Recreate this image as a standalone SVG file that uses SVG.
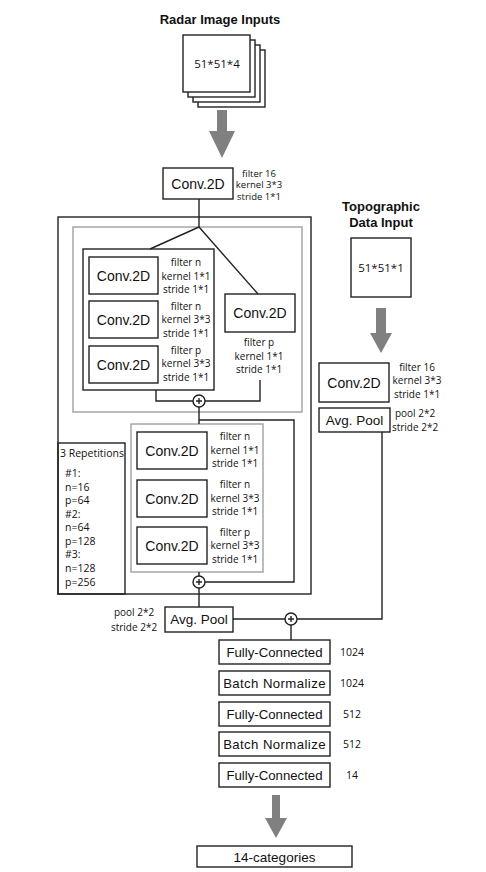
<svg xmlns="http://www.w3.org/2000/svg" width="486" height="872" viewBox="0 0 486 872">
<style>
.bx{fill:#fff;stroke:#222;stroke-width:1.4}
.gb{fill:none;stroke:#a6a6a6;stroke-width:1.5}
.ln{fill:none;stroke:#222;stroke-width:1.4}
.ar{fill:#808080;stroke:none}
.t{font-family:"Liberation Sans",Arial,sans-serif;font-size:14px;fill:#111;text-anchor:middle;dominant-baseline:central}
.tt{font-family:"Liberation Sans",Arial,sans-serif;font-size:13px;font-weight:bold;fill:#111;text-anchor:middle}
.s{font-family:"Open Sans","Liberation Sans",sans-serif;font-size:10px;fill:#111;text-anchor:middle;dominant-baseline:central}
.sl{font-family:"Open Sans","Liberation Sans",sans-serif;font-size:10.5px;fill:#111;dominant-baseline:central}
</style>
<rect width="486" height="872" fill="#fff"/>

<g id="radar-input">
<text class="tt" x="220" y="24">Radar Image Inputs</text>
<rect class="bx" x="198" y="50" width="67" height="57"/>
<rect class="bx" x="193" y="45" width="67" height="57"/>
<rect class="bx" x="188" y="40" width="67" height="57"/>
<rect class="bx" x="183" y="35" width="67" height="57"/>
<text class="s" style="font-size:11.5px" x="217" y="63">51*51*4</text>
</g>

<g id="conv-top">
<rect class="bx" x="163" y="168" width="70" height="31"/>
<text class="t" x="198" y="183.5">Conv.2D</text>
<text class="s" style="font-size:9.5px" x="259" y="173">filter 16</text>
<text class="s" style="font-size:9.5px" x="259" y="184.5">kernel 3*3</text>
<text class="s" style="font-size:9.5px" x="259" y="196">stride 1*1</text>
</g>

<g id="outer-block">
<rect class="bx" style="fill:none" x="58" y="217" width="253" height="377"/>
</g>

<g id="block1">
<rect class="gb" x="73" y="227" width="229" height="185"/>
<rect class="bx" x="83" y="249" width="131" height="141"/>
<rect class="bx" x="89" y="257" width="69" height="37"/>
<text class="t" x="123.5" y="275.5">Conv.2D</text>
<rect class="bx" x="89" y="301" width="69" height="37"/>
<text class="t" x="123.5" y="319.5">Conv.2D</text>
<rect class="bx" x="89" y="346" width="69" height="37"/>
<text class="t" x="123.5" y="364.5">Conv.2D</text>
<text class="s" x="186" y="262">filter n</text>
<text class="s" x="186" y="275.5">kernel 1*1</text>
<text class="s" x="186" y="289">stride 1*1</text>
<text class="s" x="186" y="305.5">filter n</text>
<text class="s" x="186" y="319">kernel 3*3</text>
<text class="s" x="186" y="332.5">stride 1*1</text>
<text class="s" x="186" y="349.5">filter p</text>
<text class="s" x="186" y="363">kernel 3*3</text>
<text class="s" x="186" y="376.5">stride 1*1</text>
<rect class="bx" x="225" y="294" width="70" height="38"/>
<text class="t" x="260" y="313">Conv.2D</text>
<text class="s" x="259" y="342">filter p</text>
<text class="s" x="259" y="355.5">kernel 1*1</text>
<text class="s" x="259" y="369">stride 1*1</text>
</g>

<g id="block2">
<rect class="gb" x="131" y="424" width="132" height="148"/>
<rect class="bx" x="137" y="432" width="70" height="37"/>
<text class="t" x="172" y="450.5">Conv.2D</text>
<rect class="bx" x="137" y="480" width="70" height="37"/>
<text class="t" x="172" y="498.5">Conv.2D</text>
<rect class="bx" x="137" y="527" width="70" height="37"/>
<text class="t" x="172" y="545.5">Conv.2D</text>
<text class="s" x="235" y="436">filter n</text>
<text class="s" x="235" y="449.5">kernel 1*1</text>
<text class="s" x="235" y="463">stride 1*1</text>
<text class="s" x="235" y="484">filter n</text>
<text class="s" x="235" y="497.5">kernel 3*3</text>
<text class="s" x="235" y="511">stride 1*1</text>
<text class="s" x="235" y="531.5">filter p</text>
<text class="s" x="235" y="545">kernel 3*3</text>
<text class="s" x="235" y="558.5">stride 1*1</text>
</g>

<g id="repetitions">
<rect class="bx" style="fill:none" x="58" y="443" width="67" height="151"/>
<text class="sl" x="60" y="453">3 Repetitions</text>
<text class="sl" x="65" y="473">#1:</text>
<text class="sl" x="65" y="486.5">n=16</text>
<text class="sl" x="65" y="500">p=64</text>
<text class="sl" x="65" y="514">#2:</text>
<text class="sl" x="65" y="527">n=64</text>
<text class="sl" x="65" y="540.5">p=128</text>
<text class="sl" x="65" y="554">#3:</text>
<text class="sl" x="65" y="568">n=128</text>
<text class="sl" x="65" y="582">p=256</text>
</g>

<g id="avgpool-left">
<rect class="bx" x="165" y="607" width="68" height="25"/>
<text class="t" style="font-size:13.5px" x="199" y="619.5">Avg. Pool</text>
<text class="s" x="134" y="612">pool 2*2</text>
<text class="s" x="134" y="627">stride 2*2</text>
</g>

<g id="topo-input">
<text class="tt" x="381" y="211">Topographic</text>
<text class="tt" x="381" y="227">Data Input</text>
<rect class="bx" x="351" y="238" width="60" height="59"/>
<text class="s" style="font-size:11.5px" x="381" y="267">51*51*1</text>
</g>

<g id="conv-topo">
<rect class="bx" x="319" y="363" width="70" height="39"/>
<text class="t" x="354" y="382.5">Conv.2D</text>
<text class="s" x="417" y="366.5">filter 16</text>
<text class="s" x="417" y="380">kernel 3*3</text>
<text class="s" x="417" y="394">stride 1*1</text>
</g>

<g id="avgpool-topo">
<rect class="bx" x="319" y="408" width="71" height="24"/>
<text class="t" style="font-size:13.5px" x="354.5" y="420">Avg. Pool</text>
<text class="s" x="415" y="413">pool 2*2</text>
<text class="s" x="415" y="427">stride 2*2</text>
</g>

<g id="dense">
<rect class="bx" x="219" y="640" width="111" height="24"/>
<text class="t" style="font-size:13.2px" x="274.5" y="652">Fully-Connected</text>
<rect class="bx" x="219" y="671" width="111" height="24"/>
<text class="t" style="font-size:13.2px;letter-spacing:0.4px" x="274.5" y="683">Batch Normalize</text>
<rect class="bx" x="219" y="702" width="111" height="24"/>
<text class="t" style="font-size:13.2px" x="274.5" y="714">Fully-Connected</text>
<rect class="bx" x="219" y="732" width="111" height="24"/>
<text class="t" style="font-size:13.2px;letter-spacing:0.4px" x="274.5" y="744">Batch Normalize</text>
<rect class="bx" x="219" y="763" width="111" height="24"/>
<text class="t" style="font-size:13.2px" x="274.5" y="775">Fully-Connected</text>
<text class="sl" style="text-anchor:middle" x="352" y="652">1024</text>
<text class="sl" style="text-anchor:middle" x="352" y="683">1024</text>
<text class="sl" style="text-anchor:middle" x="352" y="714">512</text>
<text class="sl" style="text-anchor:middle" x="352" y="744">512</text>
<text class="sl" style="text-anchor:middle" x="352" y="775">14</text>
</g>

<g id="output">
<rect class="bx" x="197" y="846" width="155" height="21"/>
<text class="t" style="font-size:13.5px" x="274.5" y="857">14-categories</text>
</g>

<g id="connectors">
<path class="ar" d="M217,110 H227 V131 H235 L222,158 L209,131 H217 Z"/>
<path class="ar" d="M376,308 H386 V333 H392 L381,353 L370,333 H376 Z"/>
<path class="ar" d="M272,795 H280 V818 H287 L276,838 L265,818 H272 Z"/>
<path class="ln" d="M199,199 V227 M199,227 L150,249 M199,227 L258,294"/>
<path class="ln" d="M156,390 V401 H193 M260,380 V401 H205"/>
<path class="ln" d="M199,407 V424 M199,420 H294 V582 H205"/>
<path class="ln" d="M199,572 V576 M199,588 V607"/>
<path class="ln" d="M233,619 H285 M297,619 H382 V432 M291,625 V640"/>
<g class="ln">
<circle cx="199" cy="401" r="6"/>
<path d="M196,401 H202 M199,398 V404"/>
<circle cx="199" cy="582" r="6"/>
<path d="M196,582 H202 M199,579 V585"/>
<circle cx="291" cy="619" r="6"/>
<path d="M288,619 H294 M291,616 V622"/>
</g>
</g>
</svg>
